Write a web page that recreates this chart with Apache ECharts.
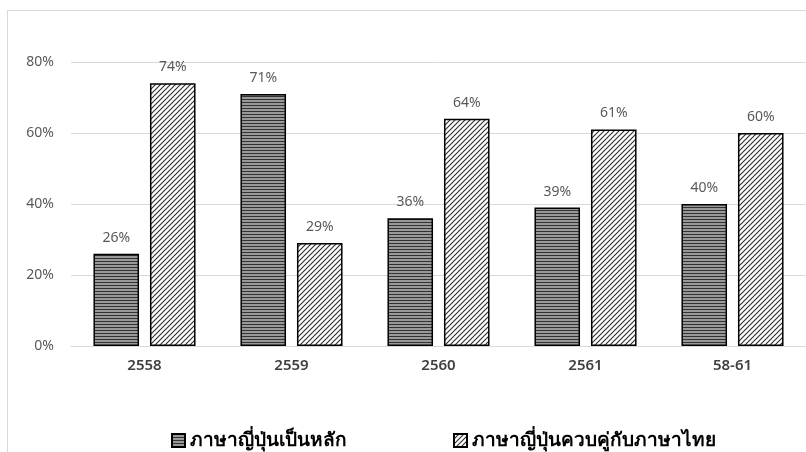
<!DOCTYPE html>
<html>
<head>
<meta charset="utf-8">
<script src="https://cdn.jsdelivr.net/npm/echarts@6/dist/echarts.min.js"></script>
<style>
  html, body { margin: 0; padding: 0; background: #fff; }
  #frame { position: absolute; left: 7px; top: 10px; width: 820px; height: 460px; border: 1px solid #d9d9d9; box-sizing: border-box; }
  #chart { position: absolute; left: 0; top: 0; width: 806px; height: 452px; }
</style>
</head>
<body>
<div id="frame"></div>
<div id="chart"></div>
<script>
// Data
var years = ['2558', '2559', '2560', '2561', '58-61'];
var seriesNames = ['ภาษาญี่ปุ่นเป็นหลัก', 'ภาษาญี่ปุ่นควบคู่กับภาษาไทย'];
var japaneseMain = [26, 71, 36, 39, 40];
var japaneseWithThai = [74, 29, 64, 61, 60];
var yTicks = [0, 20, 40, 60, 80];

// horizontal stripes fill
var makeStripes = function makeStripes() {
  var c = document.createElement('canvas');
  c.width = 4; c.height = 3;
  var ctx = c.getContext('2d');
  ctx.fillStyle = '#999999';
  ctx.fillRect(0, 0, 4, 3);
  ctx.fillStyle = '#333333';
  ctx.fillRect(0, 0, 4, 1);
  return c;
};

// diagonal hatch fill
var makeHatch = function makeHatch() {
  var s = 5;
  var c = document.createElement('canvas');
  c.width = s; c.height = s;
  var ctx = c.getContext('2d');
  ctx.fillStyle = '#fff';
  ctx.fillRect(0, 0, s, s);
  ctx.strokeStyle = '#333';
  ctx.lineWidth = 1.2;
  ctx.beginPath();
  ctx.moveTo(-1, s + 1); ctx.lineTo(s + 1, -1);
  ctx.moveTo(-1, 1); ctx.lineTo(1, -1);
  ctx.moveTo(s - 1, s + 1); ctx.lineTo(s + 1, s - 1);
  ctx.stroke();
  return c;
};

var chart = echarts.init(document.getElementById('chart'));
var labelStyle = {
  show: true,
  position: 'top',
  distance: 9,
  color: '#595959',
  fontSize: 14,
  fontFamily: 'Noto Sans, sans-serif',
  formatter: function (p) { return p.value + '%'; }
};

chart.setOption({
  animation: false,
  grid: { left: 71, right: -5, top: 62, bottom: 106 },
  legend: {
    bottom: -3,
    left: 166,
    icon: 'rect',
    itemWidth: 13,
    itemHeight: 13,
    itemGap: 106,
    textStyle: { color: '#000', fontSize: 19, fontWeight: 'bold', fontFamily: 'Noto Sans, sans-serif' },
    data: seriesNames
  },
  xAxis: {
    type: 'category',
    data: years,
    axisLine: { lineStyle: { color: '#d9d9d9', width: 1 } },
    axisTick: { show: false },
    axisLabel: { color: '#404040', fontSize: 15, fontWeight: 600, margin: 12, fontFamily: 'Noto Sans, sans-serif' }
  },
  yAxis: {
    type: 'value',
    min: yTicks[0],
    max: yTicks[yTicks.length - 1],
    interval: 20,
    axisLine: { show: false },
    axisTick: { show: false },
    splitLine: { lineStyle: { color: '#d9d9d9' } },
    axisLabel: { color: '#595959', fontSize: 14, margin: 17, fontFamily: 'Noto Sans, sans-serif', formatter: '{value}%' }
  },
  series: [{
    type: 'bar',
    name: seriesNames[0],
    data: japaneseMain,
    barWidth: '31%',
    barGap: '24%',
    itemStyle: { color: { image: makeStripes(), repeat: 'repeat' }, borderColor: '#000', borderWidth: 1.5 },
    label: labelStyle
  }, {
    type: 'bar',
    name: seriesNames[1],
    data: japaneseWithThai,
    barWidth: '31%',
    itemStyle: { color: { image: makeHatch(), repeat: 'repeat' }, borderColor: '#000', borderWidth: 1.5 },
    label: labelStyle
  }]
});
</script>
</body>
</html>
